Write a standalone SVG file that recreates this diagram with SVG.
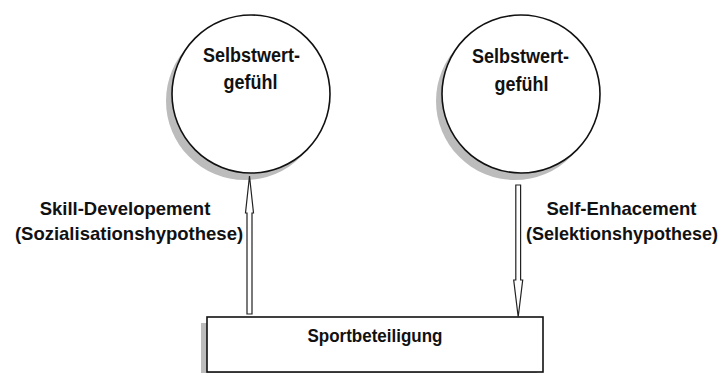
<svg xmlns="http://www.w3.org/2000/svg" width="721" height="373" viewBox="0 0 721 373">
<style>
text{font-family:"Liberation Sans",Arial,sans-serif;font-weight:bold;fill:#111;text-anchor:middle}
.node{fill:#fff;stroke:#111;stroke-width:1.6}
.shadow{fill:#bcbcbc;stroke:none}
.arrow{fill:#fff;stroke:#222;stroke-width:1.2;stroke-linejoin:miter}
.lbl{font-size:18.5px}
.cl{font-size:18px}
</style>
<rect width="721" height="373" fill="#fff"/>
<g id="node-selbstwert-left">
<circle class="shadow" cx="245" cy="101" r="79"/>
<circle class="node" cx="251" cy="94" r="79"/>
<text class="cl" x="251.5" y="0" transform="translate(0,62) scale(1,1.15)">Selbstwert-</text>
<text class="cl" x="250.5" y="0" transform="translate(0,89) scale(1,1.15)">gefühl</text>
</g>
<g id="node-selbstwert-right">
<circle class="shadow" cx="515" cy="101" r="79"/>
<circle class="node" cx="521" cy="94" r="79"/>
<text class="cl" x="520.5" y="0" transform="translate(0,63) scale(1,1.15)">Selbstwert-</text>
<text class="cl" x="521.5" y="0" transform="translate(0,91) scale(1,1.15)">gefühl</text>
</g>
<g id="node-sportbeteiligung">
<rect class="shadow" x="201" y="323" width="336" height="55"/>
<rect class="node" x="207" y="317" width="336" height="55"/>
<text x="375" y="0" style="font-size:17px" transform="translate(0,342) scale(1,1.08)">Sportbeteiligung</text>
</g>
<g id="connectors">
<path class="arrow" d="M247,314 L247,213 L245.5,213 L249.5,176 L253.5,213 L252,213 L252,314 Z"/>
<path class="arrow" d="M515.8,185 L520.6,185 L520.6,280 L522.7,280 L518.2,317 L513.7,280 L515.8,280 Z"/>
</g>
<g id="labels">
<text class="lbl" x="125" y="215">Skill-Developement</text>
<text class="lbl" x="129" y="240">(Sozialisationshypothese)</text>
<text class="lbl" x="621.5" y="215">Self-Enhacement</text>
<text class="lbl" x="622" y="240" style="font-size:18px">(Selektionshypothese)</text>
</g>
</svg>
